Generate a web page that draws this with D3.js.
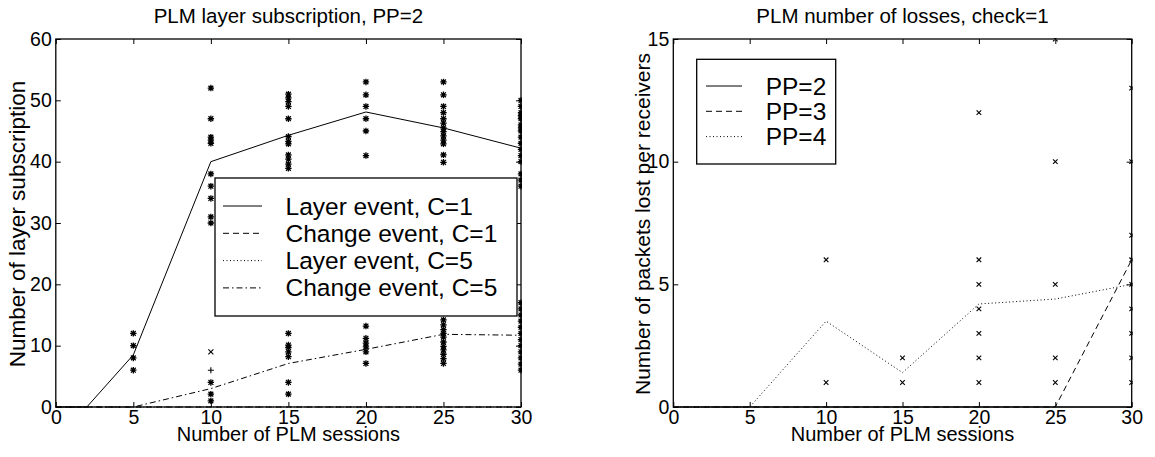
<!DOCTYPE html>
<html>
<head>
<meta charset="utf-8">
<script src="https://cdn.jsdelivr.net/npm/d3@7"></script>
<style>
  body { margin: 0; background: #fff; }
  svg { display: block; }
  text { font-family: "Liberation Sans", Arial, Helvetica, sans-serif; fill: #000; }
</style>
</head>
<body>
<div id="chart"></div>
<script>
'use strict';

// ---- left panel data ----
var sessions = [0, 2, 5, 10, 15, 20, 25, 30];
var layerC1 = [0, 0, 8.5, 40, 44.3, 48.1, 45.5, 42.2];
var changeC1 = [0, 0, 0, 0, 0, 0, 0, 0];
var layerC5 = [0, 0, 0, 0, 0, 0, 0, 0];
var changeC5 = [0, 0, 0, 3, 7.1, 9.4, 11.85, 11.7];

var starPoints = {
    5: [12, 10, 8, 6],
    10: [52, 47, 44, 43.5, 43, 38, 36, 34, 31, 30, 4, 2.1, 1],
    15: [51, 50.4, 49.8, 49, 47, 44.1, 43.3, 42.9, 41.1, 40.4, 39.6, 38.9, 12, 10.1, 9.7, 9, 8.2, 4, 2.1],
    20: [53, 50.9, 49, 47, 45, 41, 13.2, 11.2, 10.4, 9.8, 9, 7.1],
    25: [53, 50.9, 49, 48, 47, 46.3, 45.5, 44.9, 44.2, 43.5, 42.9, 41.1, 39.9,
         14.2, 13.4, 12.6, 12, 11.4, 10.6, 9.9, 9.3, 8.6, 7.9, 7.1],
    30: [50, 49, 48, 47.5, 47, 46, 45.5, 45, 44, 43, 42, 41, 40, 38, 37, 36,
         17, 16, 15, 14, 13, 12, 11, 10, 9, 8, 7, 6]
};
var crossPointsLeft = [[10, 9]];
var plusPointsLeft = [[10, 6]];

var leftXTicks = [0, 5, 10, 15, 20, 25, 30];
var leftYTicks = [0, 10, 20, 30, 40, 50, 60];
var leftLegend = ['Layer event, C=1', 'Change event, C=1', 'Layer event, C=5', 'Change event, C=5'];

// ---- right panel data ----
var ppSessions = [0, 5, 10, 15, 20, 25, 30];
var lossPP2 = [0, 0, 0, 0, 0, 0, 0];
var lossPP3 = [0, 0, 0, 0, 0, 0, 6];
var lossPP4 = [0, 0, 3.5, 1.4, 4.2, 4.4, 5.0];

var lossPoints = {
    10: [6, 1],
    15: [2, 1],
    20: [12, 6, 5, 4, 3, 2, 1],
    25: [15, 10, 5, 2, 1],
    30: [13, 10, 7, 6, 5, 4, 3, 2, 1]
};
var rightXTicks = [0, 5, 10, 15, 20, 25, 30];
var rightYTicks = [0, 5, 10, 15];
var rightLegend = ['PP=2', 'PP=3', 'PP=4'];

var dashes = [null, '6,4', '1,2.5', '6,3,1.5,3'];

var svg = d3.select('#chart').append('svg')
    .attr('width', 1155)
    .attr('height', 457);

function drawPanel(opt) {
    var x = d3.scaleLinear().domain([0, 30]).range([opt.left, opt.right]);
    var y = d3.scaleLinear().domain(opt.yDomain).range([407, 39]);
    var g = svg.append('g');

    g.append('clipPath').attr('id', opt.id + '-clip')
        .append('rect')
        .attr('x', opt.left - 1).attr('y', 38)
        .attr('width', opt.right - opt.left + 2).attr('height', 370);

    var plot = g.append('g').attr('clip-path', 'url(#' + opt.id + '-clip)');

    // lines
    var line = d3.line()
        .x(function(d) { return x(d[0]); })
        .y(function(d) { return y(d[1]); });
    opt.series.forEach(function(s, i) {
        plot.append('path')
            .datum(s.x.map(function(v, j) { return [v, s.y[j]]; }))
            .attr('d', line)
            .attr('fill', 'none')
            .attr('stroke', '#000')
            .attr('stroke-width', 1)
            .attr('stroke-dasharray', dashes[i]);
    });

    // markers
    opt.markers.forEach(function(m) {
        var px = x(m.x), py = y(m.y), r = m.size;
        var d;
        if (m.type === 'x') {
            d = 'M' + (px - r) + ',' + (py - r) + 'L' + (px + r) + ',' + (py + r) +
                'M' + (px - r) + ',' + (py + r) + 'L' + (px + r) + ',' + (py - r);
        } else if (m.type === '+') {
            d = 'M' + (px - r) + ',' + py + 'L' + (px + r) + ',' + py +
                'M' + px + ',' + (py - r) + 'L' + px + ',' + (py + r);
        } else {
            var q = r * 0.75;
            d = 'M' + (px - r) + ',' + py + 'L' + (px + r) + ',' + py +
                'M' + px + ',' + (py - r) + 'L' + px + ',' + (py + r) +
                'M' + (px - q) + ',' + (py - q) + 'L' + (px + q) + ',' + (py + q) +
                'M' + (px - q) + ',' + (py + q) + 'L' + (px + q) + ',' + (py - q);
        }
        plot.append('path').attr('d', d)
            .attr('stroke', '#000').attr('stroke-width', m.type === '*' ? 1.3 : 1.1)
            .attr('fill', 'none');
    });

    // axes (ticks inside, box)
    var tickLen = 5;
    g.append('g')
        .attr('transform', 'translate(0,407)')
        .call(d3.axisBottom(x).tickValues(opt.xTicks).tickSize(-tickLen).tickPadding(3))
        .call(styleAxis);
    g.append('g')
        .attr('transform', 'translate(0,39)')
        .call(d3.axisTop(x).tickValues(opt.xTicks).tickSize(-tickLen).tickFormat(''))
        .call(styleAxis);
    g.append('g')
        .attr('transform', 'translate(' + opt.left + ',0)')
        .call(d3.axisLeft(y).tickValues(opt.yTicks).tickSize(-tickLen).tickPadding(4))
        .call(styleAxis);
    g.append('g')
        .attr('transform', 'translate(' + opt.right + ',0)')
        .call(d3.axisRight(y).tickValues(opt.yTicks).tickSize(-tickLen).tickFormat(''))
        .call(styleAxis);

    g.append('rect')
        .attr('x', opt.left).attr('y', 39)
        .attr('width', opt.right - opt.left).attr('height', 368)
        .attr('fill', 'none').attr('stroke', '#000').attr('stroke-width', 1.3);

    // titles
    var cx = (opt.left + opt.right) / 2;
    g.append('text').attr('x', cx).attr('y', 23)
        .attr('text-anchor', 'middle').style('font-size', '20.5px').text(opt.title);
    g.append('text').attr('x', cx).attr('y', 441)
        .attr('text-anchor', 'middle').style('font-size', '20px').text('Number of PLM sessions');
    g.append('text')
        .attr('transform', 'translate(' + opt.yLabelX + ',224) rotate(-90)')
        .attr('text-anchor', 'middle').style('font-size', opt.yLabelSize).text(opt.yLabel);

    // legend
    var lg = g.append('g');
    lg.append('rect')
        .attr('x', opt.legend.x).attr('y', opt.legend.y)
        .attr('width', opt.legend.w).attr('height', opt.legend.h)
        .attr('fill', '#fff').attr('stroke', '#000').attr('stroke-width', 1.3);
    opt.legend.labels.forEach(function(lab, i) {
        var ly = opt.legend.y0 + i * opt.legend.step;
        lg.append('line')
            .attr('x1', opt.legend.lx1).attr('x2', opt.legend.lx2)
            .attr('y1', ly).attr('y2', ly)
            .attr('stroke', '#000').attr('stroke-width', 1)
            .attr('stroke-dasharray', dashes[i]);
        lg.append('text')
            .attr('x', opt.legend.tx).attr('y', ly + 8.5)
            .style('font-size', '24.5px').text(lab);
    });
}

function styleAxis(sel) {
    sel.select('.domain').remove();
    sel.selectAll('.tick line').attr('stroke', '#000').attr('stroke-width', 1);
    sel.selectAll('.tick text').style('font-size', '19.5px')
        .style('font-family', '"Liberation Sans", Arial, sans-serif');
}

// left panel markers
var leftMarkers = [];
Object.keys(starPoints).forEach(function(k) {
    starPoints[k].forEach(function(v) {
        leftMarkers.push({x: +k, y: v, type: '*', size: 3.2});
    });
});
crossPointsLeft.forEach(function(p) { leftMarkers.push({x: p[0], y: p[1], type: 'x', size: 2.5}); });
plusPointsLeft.forEach(function(p) { leftMarkers.push({x: p[0], y: p[1], type: '+', size: 3}); });

drawPanel({
    id: 'left',
    left: 55.8, right: 521,
    yDomain: [0, 60],
    xTicks: leftXTicks, yTicks: leftYTicks,
    title: 'PLM layer subscription, PP=2',
    yLabel: 'Number of layer subscription', yLabelX: 25, yLabelSize: '22.5px',
    series: [
        {x: sessions, y: layerC1},
        {x: sessions, y: changeC1},
        {x: sessions, y: layerC5},
        {x: sessions, y: changeC5}
    ],
    markers: leftMarkers,
    legend: {x: 215, y: 178, w: 302, h: 138, y0: 206, step: 27.3,
             lx1: 223, lx2: 262, tx: 285.5, labels: leftLegend}
});

// right panel markers
var rightMarkers = [];
Object.keys(lossPoints).forEach(function(k) {
    lossPoints[k].forEach(function(v) {
        rightMarkers.push({x: +k, y: v, type: 'x', size: 2.3});
    });
});

drawPanel({
    id: 'right',
    left: 673.3, right: 1131.7,
    yDomain: [0, 15],
    xTicks: rightXTicks, yTicks: rightYTicks,
    title: 'PLM number of losses, check=1',
    yLabel: 'Number of packets lost per receivers', yLabelX: 650, yLabelSize: '21px',
    series: [
        {x: ppSessions, y: lossPP2},
        {x: ppSessions, y: lossPP3},
        {x: ppSessions, y: lossPP4}
    ],
    markers: rightMarkers,
    legend: {x: 696.7, y: 59.3, w: 139, h: 104.7, y0: 86, step: 25.3,
             lx1: 706, lx2: 742, tx: 765.7, labels: rightLegend}
});
</script>
</body>
</html>
